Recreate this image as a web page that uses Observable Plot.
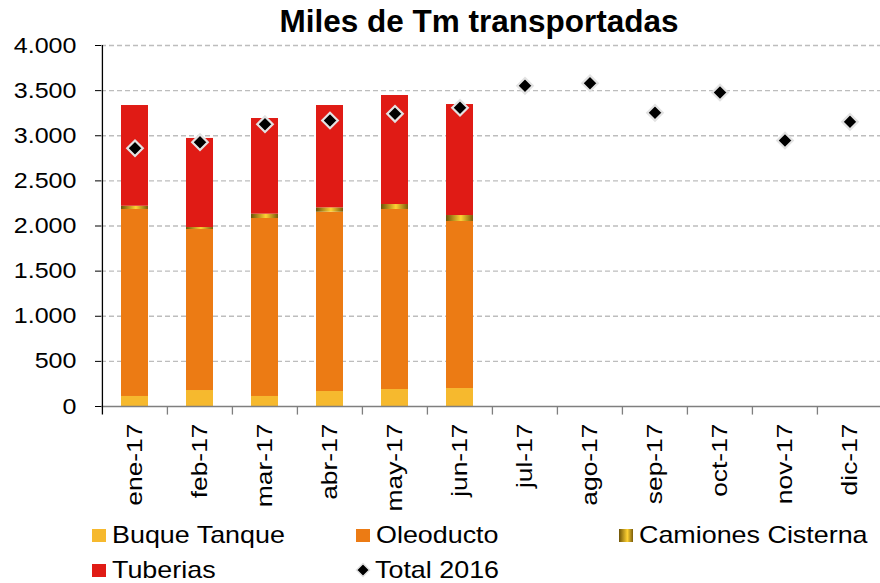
<!DOCTYPE html>
<html>
<head>
<meta charset="utf-8">
<script src="https://cdn.jsdelivr.net/npm/d3@7"></script>
<script src="https://cdn.jsdelivr.net/npm/@observablehq/plot@0.6"></script>
<style>
  body { margin: 0; background: #fff; font-family: "Liberation Sans", Arial, sans-serif; }
  #wrap { width: 880px; height: 583px; position: relative; overflow: hidden; }
  #title { height: 36px; text-align: center; font-weight: bold; font-size: 31.5px; line-height: 42px; color: #000; padding-left: 78px; box-sizing: border-box; white-space: nowrap; }
  #legend { position: absolute; left: 0; top: 514px; width: 880px; height: 69px; font-size: 24px; color: #000; }
  .li { position: absolute; display: flex; align-items: center; white-space: nowrap; height: 28px; }
  .sw { width: 14px; height: 13px; margin-right: 6px; }
  .lt { display: inline-block; transform: scaleX(1.12); transform-origin: left center; }
</style>
</head>
<body>
<div id="wrap">
  <div id="title">Miles de Tm transportadas</div>
  <div id="chart"></div>
  <div id="legend"></div>
</div>
<script>
const months = ["ene-17","feb-17","mar-17","abr-17","may-17","jun-17","jul-17","ago-17","sep-17","oct-17","nov-17","dic-17"];
const seriesNames = ["Buque Tanque","Oleoducto","Camiones Cisterna","Tuberias"];
const buqueTanque = [111, 177, 111, 166, 188, 199];
const oleoducto = [2072, 1784, 1972, 1987, 1995, 1851];
const camionesCisterna = [36, 22, 48, 48, 55, 66];
const tuberias = [1116, 987, 1060, 1134, 1208, 1230];
const total2016 = [2862, 2929, 3128, 3169, 3243, 3310, 3553, 3582, 3254, 3479, 2947, 3154];
const yTicks = [0, 500, 1000, 1500, 2000, 2500, 3000, 3500, 4000];
const seriesColors = ["#F6B92E", "#EC7B14", "url(#camGrad)", "#E01B15"];

const seriesValues = [buqueTanque, oleoducto, camionesCisterna, tuberias];
const stacked = [];
seriesNames.forEach((s, si) => {
  seriesValues[si].forEach((v, i) => stacked.push({month: months[i], serie: s, value: v}));
});
const totals = total2016.map((v, i) => ({month: months[i], value: v}));

const W = 880, H = 478;
const mL = 101, mR = -3;
const bw = (W - mL - mR) / months.length;
const fmt = d => d3.format(",")(d).replace(/,/g, ".");

const chart = Plot.plot({
  width: W,
  height: H,
  marginLeft: mL,
  marginRight: mR,
  marginTop: 9,
  marginBottom: 108,
  style: {fontFamily: "'Liberation Sans', Arial, sans-serif", fontSize: "22px", color: "#000", background: "#fff", overflow: "visible"},
  x: {domain: months, padding: 0, label: null},
  y: {domain: [0, 4000], label: null},
  color: {domain: seriesNames, range: seriesColors},
  marks: [
    Plot.ruleY(yTicks.filter(d => d > 0), {stroke: "#bdbdbd", strokeWidth: 1.3, strokeDasharray: "5,3"}),
    Plot.barY(stacked, {x: "month", y: "value", fill: "serie", order: seriesNames, insetLeft: 19, insetRight: 19}),
    Plot.ruleY([0], {stroke: "#7f7f7f", strokeWidth: 1.3}),
    Plot.ruleX(months.slice(1), {x: d => d, y1: -95, y2: 0, dx: -bw / 2, stroke: "#7f7f7f", strokeWidth: 1.3}),
    Plot.ruleX([months[0]], {x: d => d, y1: -95, y2: 4000, dx: -bw / 2, stroke: "#000", strokeWidth: 1.3}),
    Plot.axisY(yTicks, {tickFormat: fmt, tickSize: 6, tickPadding: 19, fontSize: 22}),
    Plot.axisX({tickRotate: -90, tickSize: 0, tickPadding: 17, fontSize: 22}),
    Plot.dot(totals, {x: "month", y: "value", symbol: "diamond2", r: 7, fill: "#000", stroke: "#e3e3e3", strokeWidth: 2.2})
  ]
});

// gradient for Camiones Cisterna
const svg = d3.select(chart);
const defs = svg.insert("defs", ":first-child");
const g = defs.append("linearGradient").attr("id", "camGrad").attr("x1", 0).attr("x2", 1).attr("y1", 0).attr("y2", 0);
g.append("stop").attr("offset", "0%").attr("stop-color", "#6e5307");
g.append("stop").attr("offset", "55%").attr("stop-color", "#ffd233");
g.append("stop").attr("offset", "100%").attr("stop-color", "#7a5c0a");
document.getElementById("chart").appendChild(chart);

// stretch tick labels along their baseline, as in the reference
svg.selectAll('g[aria-label="y-axis tick label"] text').each(function() {
  const len = this.getComputedTextLength();
  this.setAttribute("textLength", len * 1.14);
  this.setAttribute("lengthAdjust", "spacingAndGlyphs");
});
svg.selectAll('g[aria-label="x-axis tick label"] text').each(function() {
  const len = this.getComputedTextLength();
  this.setAttribute("textLength", len * 1.2);
  this.setAttribute("lengthAdjust", "spacingAndGlyphs");
});

// legend
const legendItems = [
  {label: "Buque Tanque", x: 92, y: 7, kind: "sq", color: "#F6B92E"},
  {label: "Oleoducto", x: 356, y: 7, kind: "sq", color: "#EC7B14"},
  {label: "Camiones Cisterna", x: 619, y: 7, kind: "sq", color: "linear-gradient(to right, #6e5307, #ffd233 60%, #7a5c0a)"},
  {label: "Tuberias", x: 92, y: 42, kind: "sq", color: "#E01B15"},
  {label: "Total 2016", x: 355, y: 42, kind: "dia"}
];
const leg = document.getElementById("legend");
legendItems.forEach(it => {
  const d = document.createElement("div");
  d.className = "li";
  d.style.left = it.x + "px";
  d.style.top = it.y + "px";
  if (it.kind === "sq") {
    const s = document.createElement("span");
    s.className = "sw";
    s.style.background = it.color;
    d.appendChild(s);
  } else {
    const ns = "http://www.w3.org/2000/svg";
    const sv = document.createElementNS(ns, "svg");
    sv.setAttribute("width", 16); sv.setAttribute("height", 16);
    sv.style.marginRight = "4px";
    const p = document.createElementNS(ns, "path");
    p.setAttribute("d", "M8,1.5 L14.5,8 L8,14.5 L1.5,8 Z");
    p.setAttribute("fill", "#000");
    p.setAttribute("stroke", "#e3e3e3");
    p.setAttribute("stroke-width", "1.5");
    sv.appendChild(p);
    d.appendChild(sv);
  }
  const t = document.createElement("span");
  t.className = "lt";
  t.textContent = it.label;
  d.appendChild(t);
  leg.appendChild(d);
});
</script>
</body>
</html>
